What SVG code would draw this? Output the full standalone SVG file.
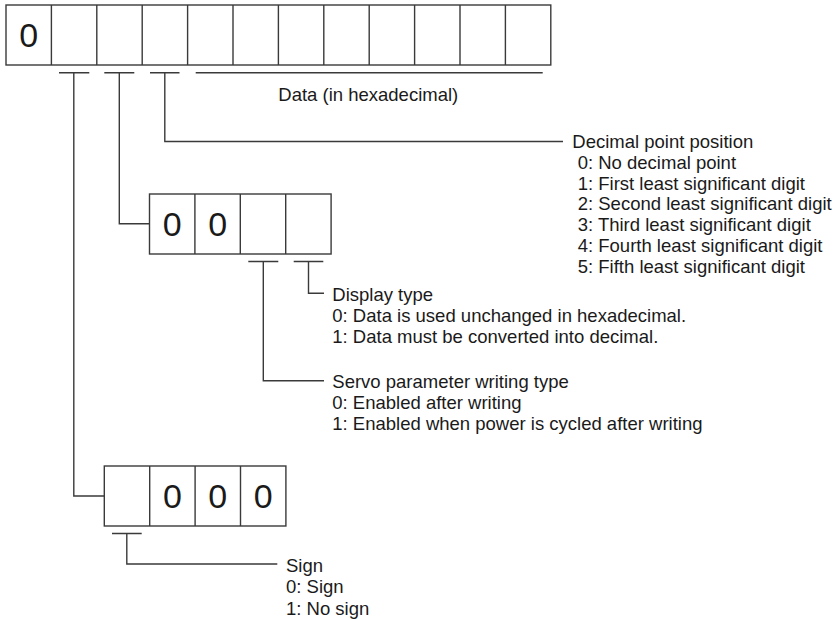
<svg xmlns="http://www.w3.org/2000/svg" width="833" height="620" viewBox="0 0 833 620">
<style>
.box{fill:#fff;stroke:#3a3a3a;stroke-width:1.4}
.ln{fill:none;stroke:#3a3a3a;stroke-width:1.4}
.dg{font-family:"Liberation Sans",Arial,sans-serif;font-size:34px;fill:#1a1a1a;text-anchor:middle}
.tx{font-family:"Liberation Sans",Arial,sans-serif;font-size:18.5px;fill:#1a1a1a}
</style>
<rect width="833" height="620" fill="#fff"/>
<g id="top-register">
<rect class="box" x="6" y="5" width="544.8" height="60"/>
<path class="ln" d="M51.4 5V65M96.8 5V65M142.2 5V65M187.6 5V65M233 5V65M278.4 5V65M323.8 5V65M369.2 5V65M414.6 5V65M460 5V65M505.4 5V65"/>
<text class="dg" x="28.7" y="47">0</text>
</g>
<g id="data-label">
<path class="ln" d="M195.7 72.7H542.7"/>
<text class="tx" x="278.3" y="100.7">Data (in hexadecimal)</text>
</g>
<g id="middle-register">
<rect class="box" x="149.5" y="194" width="181.6" height="60"/>
<path class="ln" d="M194.9 194V254M240.3 194V254M285.7 194V254"/>
<text class="dg" x="172.2" y="236">0</text>
<text class="dg" x="217.6" y="236">0</text>
</g>
<g id="bottom-register">
<rect class="box" x="104.3" y="466" width="181.6" height="60"/>
<path class="ln" d="M149.7 466V526M195.1 466V526M240.5 466V526"/>
<text class="dg" x="172.4" y="508">0</text>
<text class="dg" x="217.8" y="508">0</text>
<text class="dg" x="263.2" y="508">0</text>
</g>
<g id="decimal-point-label">
<text class="tx" x="572.3" y="148.3">Decimal point position</text>
<text class="tx" x="577.7" y="169">0: No decimal point</text>
<text class="tx" x="577.7" y="189.7">1: First least significant digit</text>
<text class="tx" x="577.7" y="210.4">2: Second least significant digit</text>
<text class="tx" x="577.7" y="231.1">3: Third least significant digit</text>
<text class="tx" x="577.7" y="251.8">4: Fourth least significant digit</text>
<text class="tx" x="577.7" y="272.5">5: Fifth least significant digit</text>
</g>
<g id="display-type-label">
<text class="tx" x="332.3" y="301.3">Display type</text>
<text class="tx" x="332.3" y="322.1">0: Data is used unchanged in hexadecimal.</text>
<text class="tx" x="332.3" y="342.9">1: Data must be converted into decimal.</text>
</g>
<g id="servo-writing-label">
<text class="tx" x="332.3" y="388">Servo parameter writing type</text>
<text class="tx" x="332.3" y="408.8">0: Enabled after writing</text>
<text class="tx" x="332.3" y="429.6">1: Enabled when power is cycled after writing</text>
</g>
<g id="sign-label">
<text class="tx" x="286" y="571.5">Sign</text>
<text class="tx" x="286" y="593">0: Sign</text>
<text class="tx" x="286" y="614.5">1: No sign</text>
</g>
<g id="connectors">
<path class="ln" d="M59 72.7H89.3M73.8 72.7V496H104.3"/>
<path class="ln" d="M104.3 72.7H134.3M119.3 72.7V223.8H149.5"/>
<path class="ln" d="M150 72.7H179.5M164.8 72.7V141.5H563"/>
<path class="ln" d="M248.3 261.5H278.3M263.3 261.5V380.7H324"/>
<path class="ln" d="M293.7 261.5H323.3M308.5 261.5V293.3H324"/>
<path class="ln" d="M112 533.5H141.7M126.8 533.5V564H277.3"/>
</g>
</svg>
